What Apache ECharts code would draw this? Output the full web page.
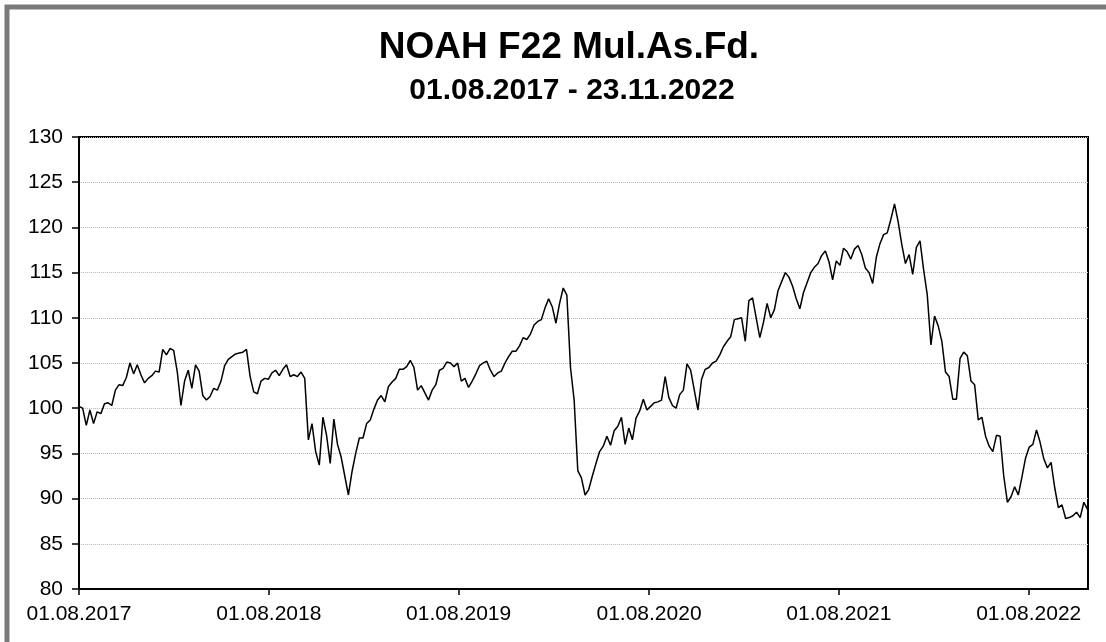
<!DOCTYPE html>
<html lang="de">
<head>
<meta charset="UTF-8">
<title>NOAH F22 Mul.As.Fd.</title>
<script src="https://cdn.jsdelivr.net/npm/echarts@6/dist/echarts.min.js"></script>
<style>
  html, body { margin: 0; padding: 0; background: #fff; }
  #main { width: 1106px; height: 642px; }
</style>
</head>
<body>
<div id="main"></div>
<script>
// Zeitraum
var startDate = [2017, 7, 1];   // 01.08.2017
var endDate = [2022, 10, 23];   // 23.11.2022
var stepDays = 7;               // Wochenwerte

// Kursverlauf (Wochenwerte)
var nav2017 = [100.2, 100.0, 98.1, 99.8, 98.3, 99.6, 99.4, 100.5, 100.6, 100.3,
  102.0, 102.6, 102.5, 103.4, 105.0, 103.8, 104.8, 103.7, 102.8, 103.3,
  103.6, 104.1, 104.0, 106.5, 105.9, 106.6, 106.4, 104.0, 100.3, 103.0,
  104.2, 102.2, 104.8, 104.1, 101.4, 100.9, 101.3, 102.2, 102.0, 103.0,
  104.7, 105.4, 105.7, 106.0, 106.1, 106.2, 106.5, 103.5, 101.8, 101.6,
  103.0, 103.3, 103.2, 103.9, 104.2, 103.6, 104.3];
var nav2018 = [104.8, 103.5, 103.7, 103.5, 104.0, 103.3, 96.5, 98.3, 95.2, 93.7,
  99.0, 97.0, 93.9, 98.8, 96.0, 94.6, 92.5, 90.4, 93.0, 95.0,
  96.7, 96.7, 98.3, 98.7, 99.9, 100.9, 101.4, 100.7, 102.4, 102.9,
  103.3, 104.3, 104.3, 104.6, 105.3, 104.5, 102.0, 102.5, 101.7, 100.9,
  102.0, 102.6, 104.2, 104.4, 105.1, 105.0, 104.6, 105.0, 103.0, 103.3,
  102.3, 103.0, 103.8, 104.7, 105.0];
var nav2019 = [105.2, 104.2, 103.5, 103.9, 104.1, 105.0, 105.7, 106.3, 106.3, 106.9,
  107.8, 107.6, 108.2, 109.2, 109.6, 109.8, 111.1, 112.1, 111.2, 109.4,
  111.6, 113.3, 112.5, 104.5, 100.9, 93.1, 92.3, 90.4, 91.0, 92.5,
  93.9, 95.2, 95.8, 96.9, 95.9, 97.5, 98.0, 99.0, 96.0, 97.8,
  96.5, 98.9, 99.7, 101.0, 99.8, 100.2, 100.6, 100.7, 100.9, 103.5,
  101.2, 100.3, 100.0, 101.5, 102.0];
var nav2020 = [104.9, 104.2, 102.0, 99.8, 103.2, 104.3, 104.5, 105.0, 105.2, 105.9,
  106.8, 107.4, 107.9, 109.8, 109.9, 110.0, 107.4, 111.9, 112.2, 110.0,
  107.8, 109.5, 111.6, 110.0, 110.9, 113.0, 114.0, 115.0, 114.5, 113.5,
  112.1, 111.0, 112.8, 113.9, 115.0, 115.6, 116.0, 116.9, 117.4, 116.2,
  114.2, 116.3, 115.8, 117.7, 117.3, 116.5, 117.6, 118.0, 117.0, 115.5,
  115.0, 113.8, 116.7, 118.2, 119.2];
var nav2021 = [119.4, 120.9, 122.6, 120.6, 118.1, 116.0, 117.0, 114.8, 117.8, 118.5,
  115.3, 112.5, 107.0, 110.2, 109.1, 107.4, 104.0, 103.5, 101.0, 101.0,
  105.5, 106.2, 105.8, 103.0, 102.6, 98.7, 99.0, 96.9, 95.8, 95.2,
  97.0, 96.9, 92.5, 89.6, 90.2, 91.3, 90.4, 92.4, 94.5, 95.7,
  96.0, 97.6, 96.2, 94.4, 93.4, 94.0, 91.2, 89.0, 89.3, 87.8,
  87.9, 88.1, 88.5, 87.9, 89.6, 88.8];

var xTickYears = [2017, 2018, 2019, 2020, 2021, 2022];
var yMin = 80, yMax = 130, yStep = 5;

var navValues = nav2017.concat(nav2018, nav2019, nav2020, nav2021);

function pad(n) { return (n < 10 ? '0' : '') + n; }
function fmt(ts) {
  var d = new Date(ts);
  return pad(d.getDate()) + '.' + pad(d.getMonth() + 1) + '.' + d.getFullYear();
}

var seriesData = navValues.map(function (v, i) {
  var t = new Date(startDate[0], startDate[1], startDate[2] + i * stepDays).getTime();
  return [t, v];
});
var tickValues = xTickYears.map(function (y) { return new Date(y, 7, 1).getTime(); });

var myChart = echarts.init(document.getElementById('main'));

var option = {
  animation: false,
  backgroundColor: '#fff',
  title: [
    {
      text: 'NOAH F22 Mul.As.Fd.',
      left: 564, top: 24, textAlign: 'center',
      textStyle: { fontFamily: 'Liberation Sans, Arial, sans-serif', fontSize: 37, fontWeight: 'bold', color: '#000' }
    },
    {
      text: '01.08.2017 - 23.11.2022',
      left: 567, top: 71, textAlign: 'center',
      textStyle: { fontFamily: 'Liberation Sans, Arial, sans-serif', fontSize: 30, fontWeight: 'bold', color: '#000' }
    }
  ],
  graphic: [{
    type: 'rect',
    shape: { x: 7, y: 7, width: 1200, height: 800 },
    style: { fill: 'none', stroke: '#7a7a7a', lineWidth: 5 },
    silent: true
  }],
  grid: {
    left: 79, right: 18, top: 137, bottom: 53,
    show: true, borderColor: '#000', borderWidth: 2, backgroundColor: 'transparent'
  },
  xAxis: {
    type: 'value',
    min: new Date(startDate[0], startDate[1], startDate[2]).getTime(),
    max: new Date(endDate[0], endDate[1], endDate[2]).getTime(),
    axisLine: { lineStyle: { color: '#000', width: 2 } },
    axisTick: { show: true, customValues: tickValues, length: 6, inside: false, lineStyle: { color: '#000', width: 1.5 } },
    axisLabel: {
      customValues: tickValues,
      formatter: function (v) { return fmt(v); },
      fontFamily: 'Liberation Sans, Arial, sans-serif',
      fontSize: 21, color: '#000', margin: 15
    },
    splitLine: { show: false }
  },
  yAxis: {
    type: 'value',
    min: yMin, max: yMax, interval: yStep,
    axisLine: { show: true, lineStyle: { color: '#000', width: 2 } },
    axisTick: { show: true, length: 7, lineStyle: { color: '#000', width: 1.5 } },
    axisLabel: {
      fontFamily: 'Liberation Sans, Arial, sans-serif',
      fontSize: 21, color: '#000', margin: 16
    },
    splitLine: { show: true, lineStyle: { color: '#b8b8b8', type: 'dotted', width: 1 } }
  },
  series: [{
    name: 'NOAH F22',
    type: 'line',
    data: seriesData,
    showSymbol: false,
    symbol: 'none',
    lineStyle: { color: '#000', width: 1.5 }
  }]
};

myChart.setOption(option);
</script>
</body>
</html>
